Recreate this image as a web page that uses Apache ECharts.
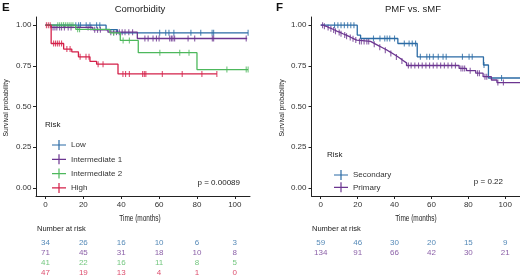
<!DOCTYPE html>
<html>
<head>
<meta charset="utf-8">
<script src="https://cdn.jsdelivr.net/npm/echarts@6/dist/echarts.min.js"></script>
<style>
  html, body { margin: 0; padding: 0; background: #fff; }
  #main { width: 520px; height: 278px; }
</style>
</head>
<body>
<div id="main"></div>
<script>
// tick values shared by both panels
var timeTicks = [0, 20, 40, 60, 80, 100];
var survTicks = [0, 0.25, 0.5, 0.75, 1];

// panel E - comorbidity (step times / survival / censor times)
var lowTime = [0, 32, 38];
var lowSurv = [1, 0.972, 0.953];
var lowEnd = 107;
var lowCens = [16, 17.5, 18.5, 21.5, 23.5, 27, 28.7, 60.3, 63.5, 65.2, 67.8, 76.8, 82, 88, 88.8, 107];

var int1Time = [0, 3, 25, 33, 48.5];
var int1Surv = [1, 0.986, 0.971, 0.957, 0.918];
var int1End = 106.5;
var int1Cens = [4, 5, 6, 7.5, 8.5, 10, 12, 13.5, 22.5, 24, 26, 27.5, 29, 34.5, 36, 37.5, 39, 40.5, 42, 44, 46,
  52.5, 54.2, 56.8, 58.6, 60, 65.6, 66.5, 67.3, 68.2, 75.3, 78.8, 88.1, 88.8, 106];

var int2Time = [0, 16, 34, 39.5, 49, 80];
var int2Surv = [1, 0.974, 0.953, 0.906, 0.831, 0.727];
var int2End = 107;
var int2Cens = [6.5, 7.5, 8.5, 9.5, 10.5, 11.5, 12.5, 13.5, 14.5, 17, 18, 36, 41, 44.3, 60.4, 70.9, 75.8, 95.8, 106, 107];

var highTime = [0, 3, 9.6, 13.9, 17.4, 23.5, 27, 38.3];
var highSurv = [1, 0.887, 0.853, 0.836, 0.805, 0.777, 0.76, 0.7];
var highEnd = 90.5;
var highCens = [0.5, 1.5, 2.5, 4.3, 5.3, 6.3, 7.3, 8.5, 11.3, 13, 18.3, 21.4, 23, 27.8, 30.4, 40.9, 42.3, 44.3,
  51.3, 52.2, 53, 61.7, 72.2, 82.6, 90.5];

// panel F - PMF vs sMF
var secTime = [0, 19.8, 21.6, 41.8, 52.3, 88.2, 90.9];
var secSurv = [1, 0.939, 0.918, 0.887, 0.805, 0.755, 0.675];
var secEnd = 108;
var secCens = [7.5, 9.3, 11, 12.8, 14.6, 16.3, 18, 28.6, 32.1, 34.7, 36, 37.4, 40, 45.3, 47.9, 49.6, 51.4,
  54, 57.5, 59, 61, 63.7, 66.3, 68, 76.8, 80.4, 82.1, 88.5, 98];

var primTime = [0, 1.5, 3, 4.5, 6, 7.5, 9, 10.5, 12, 13.5, 15, 16.5, 18, 19.5, 27, 28.5, 30, 31.5, 33, 34.5,
  36, 37.5, 39, 40.5, 42, 43.5, 45, 46.5, 75, 79, 84, 88, 92.5, 95.5];
var primSurv = [1, 0.993, 0.985, 0.978, 0.97, 0.962, 0.955, 0.947, 0.94, 0.932, 0.924, 0.916, 0.908, 0.9,
  0.891, 0.882, 0.873, 0.864, 0.855, 0.846, 0.836, 0.826, 0.815, 0.804, 0.792, 0.78, 0.768, 0.752,
  0.734, 0.72, 0.705, 0.683, 0.663, 0.647];
var primEnd = 108;
var primCens = [1, 2, 4, 5.5, 7, 8, 10, 11, 13, 14, 16, 17.5, 19, 21, 22, 23.5, 25, 26, 29, 32, 35, 38, 41, 44,
  47.5, 49, 51, 53, 55, 57, 59, 61, 63, 65, 67, 69, 71, 73, 76, 77, 78, 81, 85, 86, 89, 90, 96, 99];

// numbers at risk (at timeTicks)
var riskLow = [34, 26, 16, 10, 6, 3];
var riskInt1 = [71, 45, 31, 18, 10, 8];
var riskInt2 = [41, 22, 16, 11, 8, 5];
var riskHigh = [47, 19, 13, 4, 1, 0];
var riskSec = [59, 46, 30, 20, 15, 9];
var riskPrim = [134, 91, 66, 42, 30, 21];

var cBlue = '#2b6ba5', cPurple = '#6b3590', cGreen = '#4db85c', cRed = '#d42049';
var font = '"Liberation Sans", Arial, sans-serif';
var axisColor = '#222';

var chart = echarts.init(document.getElementById('main'));

// survival value in effect at time t
function survAt(times, surv, t) {
  var v = surv[0];
  for (var i = 0; i < times.length; i++) {
    if (times[i] <= t) v = surv[i];
  }
  return v;
}

function kmLine(name, times, surv, end, color, idx) {
  var pts = times.map(function (t, i) { return [t, surv[i]]; });
  pts.push([end, surv[surv.length - 1]]);
  return {
    name: name, type: 'line', step: 'end', xAxisIndex: idx, yAxisIndex: idx,
    symbol: 'none', data: pts, silent: true,
    lineStyle: { color: color, width: 1.3 }, itemStyle: { color: color }
  };
}

function censMarks(name, times, surv, cens, color, idx) {
  return {
    name: name + ' +', type: 'scatter', xAxisIndex: idx, yAxisIndex: idx, silent: true,
    symbol: 'rect', symbolSize: [1.1, 6],
    data: cens.map(function (t) { return [t, survAt(times, surv, t)]; }),
    itemStyle: { color: color }
  };
}

function riskRow(counts, row, color, idx) {
  return {
    type: 'scatter', xAxisIndex: idx, yAxisIndex: idx, silent: true,
    symbolSize: 1, itemStyle: { color: 'transparent' },
    data: timeTicks.map(function (t, i) { return [t, row + 0.5, counts[i]]; }),
    label: {
      show: true, position: 'inside', color: color, fontSize: 8, fontFamily: font,
      formatter: function (p) { return String(p.value[2]); }
    }
  };
}

function plotX(idx) {
  return {
    gridIndex: idx, type: 'value', min: -5, max: 108,
    axisLine: { onZero: false, lineStyle: { color: axisColor, width: 1 } },
    axisTick: { customValues: timeTicks, length: 3, lineStyle: { color: axisColor } },
    axisLabel: { customValues: timeTicks, fontSize: 8, color: '#333', margin: 5, fontFamily: font },
    splitLine: { show: false }
  };
}

function plotY(idx, margin) {
  return {
    gridIndex: idx, type: 'value', min: -0.05, max: 1.05,
    axisLine: { show: true, onZero: false, lineStyle: { color: axisColor, width: 1 } },
    axisTick: { show: true, customValues: survTicks, length: 3, lineStyle: { color: axisColor } },
    axisLabel: {
      customValues: survTicks, fontSize: 8, color: '#333', margin: margin, fontFamily: font,
      formatter: function (v) { return v.toFixed(2); }
    },
    splitLine: { show: false }
  };
}

function riskX(idx) {
  return { gridIndex: idx, type: 'value', min: -5, max: 108, show: false };
}
function riskY(idx) {
  return { gridIndex: idx, type: 'value', min: 0, max: 4, inverse: true, show: false };
}

var legendIcon = 'path://M0,4.4H14V5.6H0Z M6.4,0H7.6V10H6.4Z';

function txt(x, y, text, opts) {
  opts = opts || {};
  return {
    type: 'text', x: x, y: y, rotation: opts.rotation || 0, scaleX: opts.scaleX || 1,
    silent: true,
    style: {
      text: text, fill: opts.color || '#222', align: opts.align || 'left', verticalAlign: 'middle',
      font: (opts.weight || 'normal') + ' ' + (opts.size || 8) + 'px ' + font
    }
  };
}

var option = {
  animation: false,
  backgroundColor: '#fff',
  grid: [
    { left: 36, top: 17, width: 214, height: 179 },
    { left: 311.5, top: 17, width: 214, height: 179 },
    { left: 36, top: 238, width: 214, height: 40 },
    { left: 311.5, top: 238, width: 214, height: 40 }
  ],
  xAxis: [plotX(0), plotX(1), riskX(2), riskX(3)],
  yAxis: [plotY(0, 4.5), plotY(1, 5), riskY(2), riskY(3)],
  legend: [
    {
      left: 47, top: 135, orient: 'vertical', itemWidth: 14, itemHeight: 10, itemGap: 4.3,
      icon: legendIcon, selectedMode: false,
      textStyle: { fontSize: 8, color: '#333', fontFamily: font },
      data: ['Low', 'Intermediate 1', 'Intermediate 2', 'High']
    },
    {
      left: 329, top: 165, orient: 'vertical', itemWidth: 14, itemHeight: 10, itemGap: 2.3,
      icon: legendIcon, selectedMode: false,
      textStyle: { fontSize: 8, color: '#333', fontFamily: font },
      data: ['Secondary', 'Primary']
    }
  ],
  series: [
    kmLine('Low', lowTime, lowSurv, lowEnd, cBlue, 0),
    kmLine('Intermediate 1', int1Time, int1Surv, int1End, cPurple, 0),
    kmLine('Intermediate 2', int2Time, int2Surv, int2End, cGreen, 0),
    kmLine('High', highTime, highSurv, highEnd, cRed, 0),
    censMarks('Low', lowTime, lowSurv, lowCens, cBlue, 0),
    censMarks('Intermediate 1', int1Time, int1Surv, int1Cens, cPurple, 0),
    censMarks('Intermediate 2', int2Time, int2Surv, int2Cens, cGreen, 0),
    censMarks('High', highTime, highSurv, highCens, cRed, 0),

    kmLine('Secondary', secTime, secSurv, secEnd, cBlue, 1),
    kmLine('Primary', primTime, primSurv, primEnd, cPurple, 1),
    censMarks('Secondary', secTime, secSurv, secCens, cBlue, 1),
    censMarks('Primary', primTime, primSurv, primCens, cPurple, 1),

    riskRow(riskLow, 0, cBlue, 2),
    riskRow(riskInt1, 1, cPurple, 2),
    riskRow(riskInt2, 2, cGreen, 2),
    riskRow(riskHigh, 3, cRed, 2),
    riskRow(riskSec, 0, cBlue, 3),
    riskRow(riskPrim, 1, cPurple, 3)
  ],
  graphic: [
    txt(2, 8, 'E', { size: 11.5, weight: 'bold', color: '#111' }),
    txt(276, 8, 'F', { size: 11.5, weight: 'bold', color: '#111' }),
    txt(140, 9, 'Comorbidity', { size: 9.5, align: 'center' }),
    txt(413, 9, 'PMF vs. sMF', { size: 9.5, align: 'center' }),
    txt(6, 108, 'Survival probability', { size: 8, align: 'center', rotation: Math.PI / 2, scaleX: 0.85 }),
    txt(282, 108, 'Survival probability', { size: 8, align: 'center', rotation: Math.PI / 2, scaleX: 0.85 }),
    txt(140, 219, 'Time (months)', { size: 9, align: 'center', scaleX: 0.72 }),
    txt(416, 219, 'Time (months)', { size: 9, align: 'center', scaleX: 0.72 }),
    txt(45, 125, 'Risk', { size: 8 }),
    txt(327, 155, 'Risk', { size: 8 }),
    txt(240, 183, 'p = 0.00089', { size: 8, align: 'right' }),
    txt(503, 182, 'p = 0.22', { size: 8, align: 'right' }),
    txt(37, 229, 'Number at risk', { size: 7.5 }),
    txt(312, 229, 'Number at risk', { size: 7.5 })
  ]
};

chart.setOption(option);
</script>
</body>
</html>
